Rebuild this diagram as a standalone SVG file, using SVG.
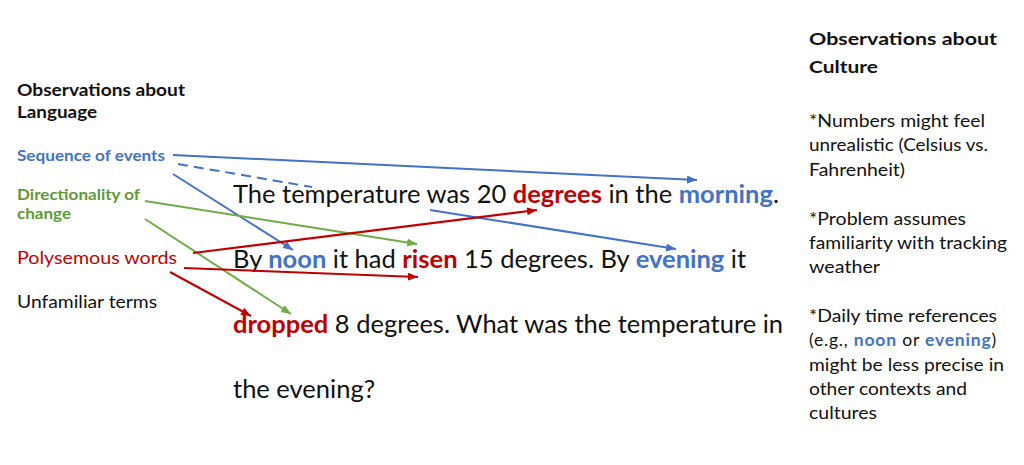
<svg xmlns="http://www.w3.org/2000/svg" width="1024" height="465" viewBox="0 0 1024 465">
<style>
text{font-family:Lato,"Open Sans","Liberation Sans",sans-serif;fill:#111}
.h{font-weight:bold;font-size:17px}
.lbl{font-size:17px}
.lb{font-weight:bold;font-size:15px}
.main{font-size:25.5px}
.cul{font-size:17.5px}
.b{font-weight:bold}
.blue{fill:#4472C4}
.red{fill:#C00000}
.green{fill:#5F9A3A}
.c line{stroke-width:2;fill:none}
.sb{stroke:#4472C4}
.sr{stroke:#C00000}
.sg{stroke:#70AD47}
</style>
<defs>
<marker id="ab" markerUnits="userSpaceOnUse" markerWidth="12" markerHeight="10" refX="10" refY="4" orient="auto"><path d="M0,0 L10,4 L0,8 Z" fill="#4472C4"/></marker>
<marker id="ar" markerUnits="userSpaceOnUse" markerWidth="12" markerHeight="10" refX="10" refY="4" orient="auto"><path d="M0,0 L10,4 L0,8 Z" fill="#C00000"/></marker>
<marker id="ag" markerUnits="userSpaceOnUse" markerWidth="12" markerHeight="10" refX="10" refY="4" orient="auto"><path d="M0,0 L10,4 L0,8 Z" fill="#70AD47"/></marker>
</defs>
<rect width="1024" height="465" fill="#fff"/>

<g id="language-heading">
<text class="h" x="17" y="96" textLength="168" lengthAdjust="spacingAndGlyphs">Observations about</text>
<text class="h" x="17" y="118" textLength="80" lengthAdjust="spacingAndGlyphs">Language</text>
</g>
<g id="sequence"><text class="lb blue" x="17" y="161" textLength="148" lengthAdjust="spacingAndGlyphs">Sequence of events</text></g>
<g id="directionality">
<text class="lb green" x="17" y="200" textLength="123" lengthAdjust="spacingAndGlyphs">Directionality of</text>
<text class="lb green" x="17" y="219" textLength="54" lengthAdjust="spacingAndGlyphs">change</text>
</g>
<g id="polysemous"><text class="lbl red" x="17" y="264" textLength="160" lengthAdjust="spacingAndGlyphs">Polysemous words</text></g>
<g id="unfamiliar"><text class="lbl" x="17" y="308" textLength="140" lengthAdjust="spacingAndGlyphs">Unfamiliar terms</text></g>

<g id="problem">
<text class="main" x="233" y="203">The temperature was 20 <tspan class="b red">degrees</tspan> in the <tspan class="b blue">morning</tspan>.</text>
<text class="main" x="233" y="268">By <tspan class="b blue">noon</tspan> it had <tspan class="b red">risen</tspan> 15 degrees. By <tspan class="b blue">evening</tspan> it</text>
<text class="main" x="233" y="333"><tspan class="b red">dropped</tspan> 8 degrees. What was the temperature in</text>
<text class="main" x="233" y="398">the evening?</text>
</g>

<g id="culture-heading">
<text class="h" x="809" y="45" font-size="19" textLength="188" lengthAdjust="spacingAndGlyphs">Observations about</text>
<text class="h" x="809" y="73" font-size="19" textLength="69" lengthAdjust="spacingAndGlyphs">Culture</text>
</g>
<g id="culture-numbers">
<text class="cul" x="809" y="127" textLength="176" lengthAdjust="spacingAndGlyphs">*Numbers might feel</text>
<text class="cul" x="809" y="151" textLength="179" lengthAdjust="spacingAndGlyphs">unrealistic (Celsius vs.</text>
<text class="cul" x="809" y="176" textLength="96" lengthAdjust="spacingAndGlyphs">Fahrenheit)</text>
</g>
<g id="culture-problem">
<text class="cul" x="809" y="225" textLength="157" lengthAdjust="spacingAndGlyphs">*Problem assumes</text>
<text class="cul" x="809" y="249" textLength="198" lengthAdjust="spacingAndGlyphs">familiarity with tracking</text>
<text class="cul" x="809" y="273" textLength="71" lengthAdjust="spacingAndGlyphs">weather</text>
</g>
<g id="culture-time">
<text class="cul" x="809" y="322" textLength="188" lengthAdjust="spacingAndGlyphs">*Daily time references</text>
<text class="cul" x="809" y="346" font-size="18" letter-spacing="0.8">(e.g., <tspan class="b blue">noon</tspan> or <tspan class="b blue">evening</tspan>)</text>
<text class="cul" x="809" y="371" textLength="195" lengthAdjust="spacingAndGlyphs">might be less precise in</text>
<text class="cul" x="809" y="395" textLength="158" lengthAdjust="spacingAndGlyphs">other contexts and</text>
<text class="cul" x="809" y="419" textLength="68" lengthAdjust="spacingAndGlyphs">cultures</text>
</g>

<g id="connectors" class="c">
<line class="sb" x1="173" y1="155" x2="697" y2="180" marker-end="url(#ab)"/>
<line class="sb" x1="178" y1="164" x2="312" y2="187" stroke-dasharray="10 6"/>
<line class="sb" x1="173" y1="174" x2="293" y2="250" marker-end="url(#ab)"/>
<line class="sb" x1="430" y1="210" x2="676" y2="249" marker-end="url(#ab)"/>
<line class="sg" x1="145" y1="201" x2="417" y2="244" marker-end="url(#ag)"/>
<line class="sg" x1="145" y1="219" x2="291" y2="314" marker-end="url(#ag)"/>
<line class="sr" x1="193" y1="253" x2="537" y2="210" marker-end="url(#ar)"/>
<line class="sr" x1="184" y1="268" x2="418" y2="277" marker-end="url(#ar)"/>
<line class="sr" x1="170" y1="272" x2="251" y2="316" marker-end="url(#ar)"/>
</g>
</svg>
